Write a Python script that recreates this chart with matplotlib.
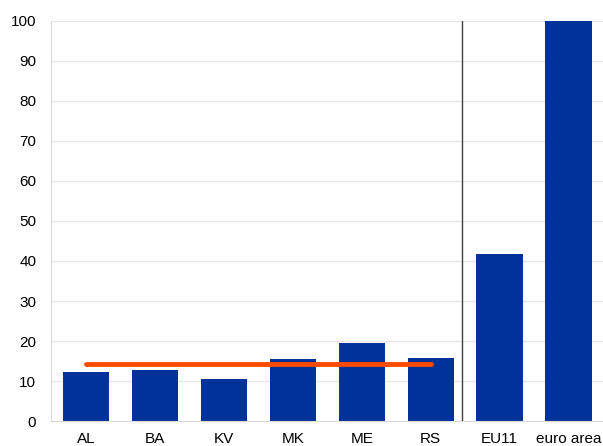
import matplotlib
matplotlib.use('Agg')
import matplotlib.pyplot as plt
import numpy as np

plt.rcParams['font.family'] = ['Liberation Sans', 'DejaVu Sans']

categories = ['AL', 'BA', 'KV', 'MK', 'ME', 'RS', 'EU11', 'euro area']
values = [12.2, 12.7, 10.5, 15.5, 19.5, 15.8, 41.8, 100.0]
wb_avg = 14.3  # Western Balkans average, drawn across AL..RS

fig = plt.figure(figsize=(6.03, 4.46), dpi=100)
ax = fig.add_axes([0.0854, 0.056, 0.9146, 0.897])

x = np.arange(len(categories))
ax.bar(x, values, width=0.67, color='#003299', zorder=2)
ax.plot([x[0], x[5]], [wb_avg, wb_avg], color='#FF4B00', lw=3.5,
        solid_capstyle='round', zorder=3)
ax.axvline(5.45, color='#404040', lw=1, zorder=3)

ax.set_xlim(-0.5, 7.5)
ax.set_ylim(0, 100)
ax.set_yticks(np.arange(0, 101, 10))
ax.set_xticks(x)
ax.set_xticklabels(categories)
ax.grid(axis='y', color='#e6e6e6', lw=1, zorder=0)
ax.tick_params(length=0, labelsize=11, colors='black')
ax.tick_params(axis='x', pad=8)
ax.tick_params(axis='y', pad=11)
for s in ['top', 'right']:
    ax.spines[s].set_visible(False)
for s in ['left', 'bottom']:
    ax.spines[s].set_color('#d9d9d9')

fig.savefig('out.png', dpi=100)
